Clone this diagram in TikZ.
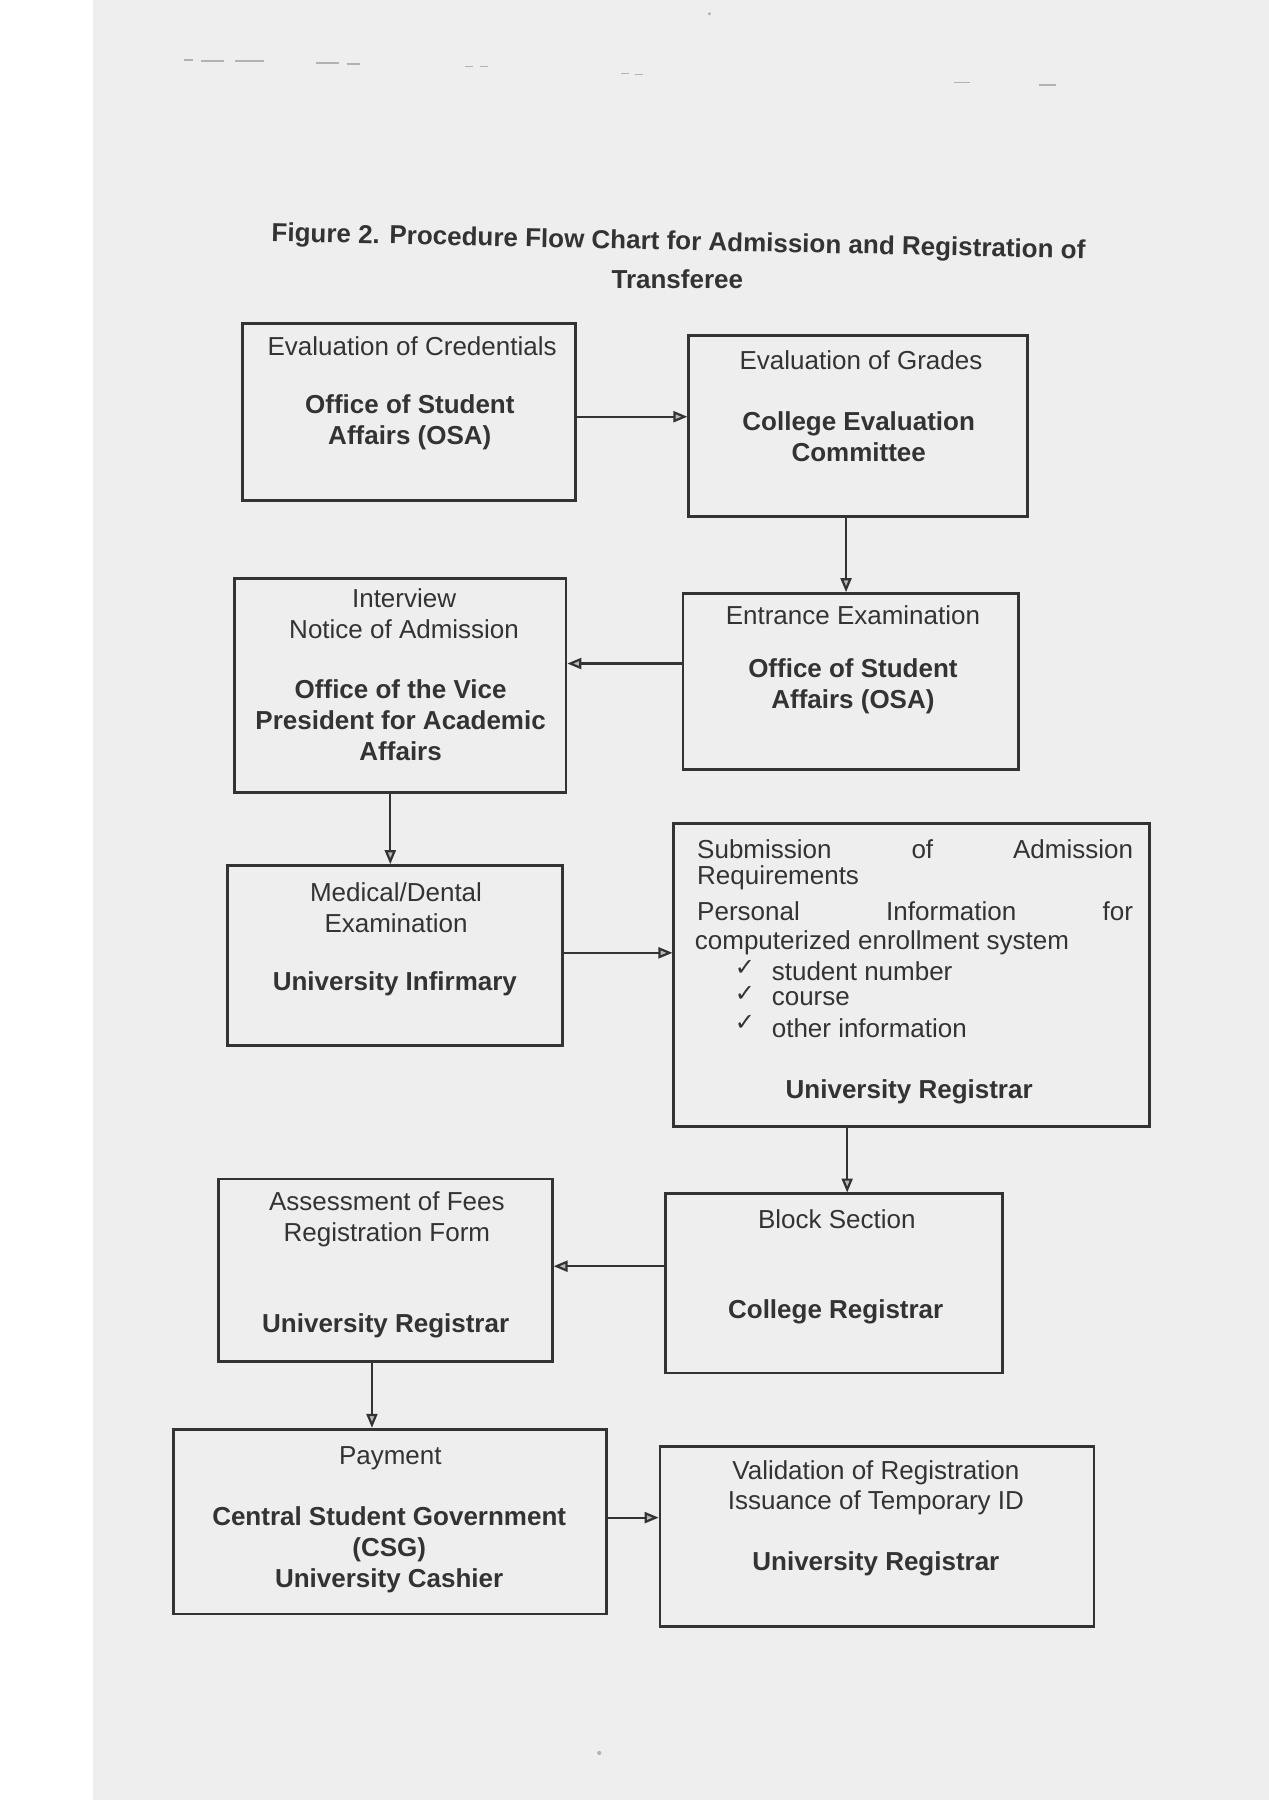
\documentclass[tikz,border=0pt]{standalone}
\usepackage{fontspec}
\setmainfont{Liberation Sans}
\newfontfamily\dejavu{DejaVu Sans}
\usetikzlibrary{arrows.meta}
\definecolor{ink}{gray}{0.2}
\definecolor{paper}{gray}{0.935}
\begin{document}
\begin{tikzpicture}[x=0.5742pt,y=-0.5742pt,
  box/.style={draw=ink, line width=1.4pt, inner sep=0pt, fill=none},
  arr/.style={draw=ink, line width=1.1pt, -{Triangle[length=7pt,width=5.5pt,fill=gray!55]}},
  txt/.style={font=\fontsize{13}{15.5}\selectfont, text=ink, align=center, inner sep=0pt},
  bld/.style={font=\fontsize{13}{15.5}\selectfont\bfseries, text=ink, align=center, inner sep=0pt},
  chk/.style={font=\dejavu\fontsize{12}{13}\selectfont, text=ink, inner sep=0pt},
  speck/.style={draw=gray!60, line width=0.8pt}]
\useasboundingbox (0,0) rectangle (1105,1568);
\fill[white] (0,0) rectangle (1105,1568);
\fill[paper] (81,0) rectangle (1105,1568);
% scan specks
\draw[speck] (160,52) -- (168,52) (175,53) -- (195,53) (205,53) -- (230,53);
\draw[speck] (275,55) -- (295,55) (302,56) -- (314,56);
\draw[speck] (405,58) -- (412,58) (418,58) -- (425,58);
\draw[speck] (541,64) -- (548,64) (553,65) -- (560,65);
\draw[speck] (831,72) -- (845,72) (905,74) -- (920,74);
\fill[gray!60] (618,12) circle (1.5);
\fill[gray!60] (522,1527) circle (1.8);

% title
\node[bld, rotate=-1.2] (title1) at (591,212) {Figure 2. Procedure Flow Chart for Admission and Registration of};
\node[bld] (title2) at (590,243) {Transferee};

% boxes
\node[box, minimum width=290*0.5742pt, minimum height=154*0.5742pt] (b1) at (356,359) {};
\node[box, minimum width=295*0.5742pt, minimum height=158*0.5742pt] (b2) at (747.5,371) {};
\node[box, minimum width=292*0.5742pt, minimum height=153*0.5742pt] (b3) at (741,593.5) {};
\node[box, minimum width=289*0.5742pt, minimum height=186*0.5742pt] (b4) at (348.5,597) {};
\node[box, minimum width=292*0.5742pt, minimum height=157*0.5742pt] (b5) at (344,832.5) {};
\node[box, minimum width=414*0.5742pt, minimum height=264*0.5742pt] (b6) at (794,849) {};
\node[box, minimum width=293*0.5742pt, minimum height=156*0.5742pt] (b7) at (726.5,1118) {};
\node[box, minimum width=291*0.5742pt, minimum height=159*0.5742pt] (b8) at (335.5,1106.5) {};
\node[box, minimum width=377*0.5742pt, minimum height=161*0.5742pt] (b9) at (339.5,1325.5) {};
\node[box, minimum width=378*0.5742pt, minimum height=157*0.5742pt] (b10) at (764,1338.5) {};

% box texts
\node[txt] (t1a) at (359,302) {Evaluation of Credentials};
\node[bld] (t1b) at (357,367.5) {Office of Student\\Affairs (OSA)};

\node[txt] (t2a) at (750,314) {Evaluation of Grades};
\node[bld] (t2b) at (748,380.5) {College Evaluation\\Committee};

\node[txt] (t3a) at (743,536) {Entrance Examination};
\node[bld] (t3b) at (743,598) {Office of Student\\Affairs (OSA)};

\node[txt] (t4a) at (352,534.5) {Interview\\Notice of Admission};
\node[bld] (t4b) at (349,627.5) {Office of the Vice\\President for Academic\\Affairs};

\node[txt] (t5a) at (345,791) {Medical/Dental\\Examination};
\node[bld] (t5b) at (344,857) {University Infirmary};

\node[txt, anchor=west] (t6a) at (607,740) {\makebox[218pt][s]{Submission of Admission}};
\node[txt, anchor=west] (t6b) at (607,765) {Requirements};
\node[txt, anchor=west] (t6c) at (607,794) {\makebox[218pt][s]{Personal Information for}};
\node[txt, anchor=west] (t6d) at (605,821) {computerized enrollment system};
\node[chk] (k1) at (649,843) {✓};
\node[chk] (k2) at (649,866) {✓};
\node[chk] (k3) at (649,891) {✓};
\node[txt, anchor=west] (t6e) at (672,846) {student number};
\node[txt, anchor=west] (t6f) at (672,870) {course};
\node[txt, anchor=west] (t6g) at (672,896) {other information};
\node[bld] (t6h) at (792,951) {University Registrar};

\node[txt] (t7a) at (729,1062) {Block Section};
\node[bld] (t7b) at (728,1143) {College Registrar};

\node[txt] (t8a) at (337,1062.5) {Assessment of Fees\\Registration Form};
\node[bld] (t8b) at (336,1155) {University Registrar};

\node[txt] (t9a) at (340,1270) {Payment};
\node[bld] (t9b) at (339,1350) {Central Student Government\\(CSG)\\University Cashier};

\node[txt] (t10a) at (763,1296) {Validation of Registration\\Issuance of Temporary ID};
\node[bld] (t10b) at (763,1362) {University Registrar};

% connectors
\draw[arr] (b1.east |- 0,363) -- (b2.west |- 0,363);
\draw[arr] (b2.south -| 737,0) -- (b3.north -| 737,0);
\draw[arr] (b3.west |- 0,578) -- (b4.east |- 0,578);
\draw[arr] (b4.south -| 340,0) -- (b5.north -| 340,0);
\draw[arr] (b5.east |- 0,830) -- (b6.west |- 0,830);
\draw[arr] (b6.south -| 738,0) -- (b7.north -| 738,0);
\draw[arr] (b7.west |- 0,1103) -- (b8.east |- 0,1103);
\draw[arr] (b8.south -| 324,0) -- (b9.north -| 324,0);
\draw[arr] (b9.east |- 0,1322) -- (b10.west |- 0,1322);
\end{tikzpicture}
\end{document}
